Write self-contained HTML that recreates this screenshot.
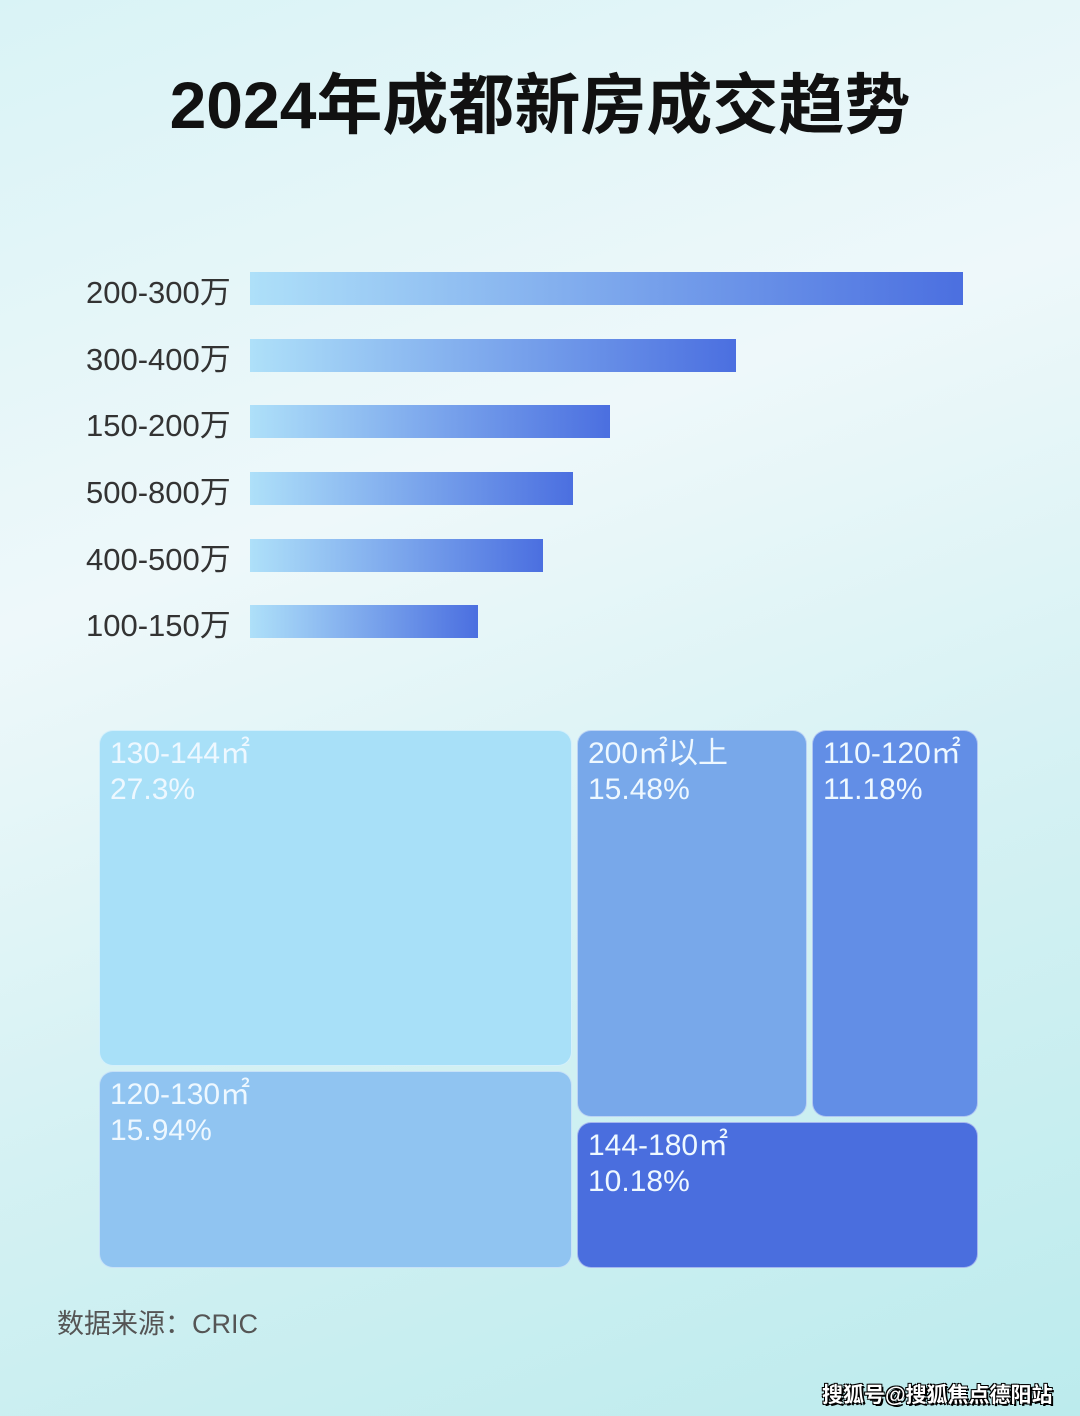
<!DOCTYPE html>
<html><head><meta charset="utf-8"><style>
body{margin:0;width:1080px;height:1416px;overflow:hidden;position:relative;font-family:"Liberation Sans","Noto Sans CJK SC",sans-serif;
background:linear-gradient(160deg,#d9f3f6 0%,#eef8fa 35%,#d4f1f3 65%,#bcebed 100%);}
.t{position:absolute;left:0;width:1080px;top:52px;text-align:center;font-size:66px;font-weight:bold;color:#111;}
.l{position:absolute;left:86px;font-size:31px;color:#333;margin-top:-5px}
.b{position:absolute;left:250px;height:33px;background:linear-gradient(90deg,#aee0f9,#4b6fe0);}
.r{position:absolute;border-radius:14px;color:#eef8ff;font-size:30px;line-height:36px;padding:5px 10px;box-sizing:border-box;border:1px solid rgba(255,255,255,.5)}
</style></head><body>
<div class="t">2024年成都新房成交趋势</div>
<div class="l" style="top:272px">200-300万</div><div class="b" style="top:272px;width:713px"></div>
<div class="l" style="top:339px">300-400万</div><div class="b" style="top:339px;width:486px"></div>
<div class="l" style="top:405px">150-200万</div><div class="b" style="top:405px;width:360px"></div>
<div class="l" style="top:472px">500-800万</div><div class="b" style="top:472px;width:323px"></div>
<div class="l" style="top:539px">400-500万</div><div class="b" style="top:539px;width:293px"></div>
<div class="l" style="top:605px">100-150万</div><div class="b" style="top:605px;width:228px"></div>
<div class="r" style="left:99px;top:730px;width:473px;height:336px;background:#a8e0f8">130-144㎡<br>27.3%</div>
<div class="r" style="left:99px;top:1071px;width:473px;height:197px;background:#90c4f1">120-130㎡<br>15.94%</div>
<div class="r" style="left:577px;top:730px;width:230px;height:387px;background:#78a8ea">200㎡以上<br>15.48%</div>
<div class="r" style="left:812px;top:730px;width:166px;height:387px;background:#628ee6">110-120㎡<br>11.18%</div>
<div class="r" style="left:577px;top:1122px;width:401px;height:146px;background:#4a6ede">144-180㎡<br>10.18%</div>
<div style="position:absolute;left:57px;top:1302px;font-size:27px;color:#555">数据来源：CRIC</div>
<div style="position:absolute;left:822px;top:1379px;font-size:21px;font-weight:bold;color:#fff;text-shadow:2px 2px 0 #000,-1px -1px 0 #000,1px -1px 0 #000,-1px 1px 0 #000">搜狐号@搜狐焦点德阳站</div>
</body></html>
